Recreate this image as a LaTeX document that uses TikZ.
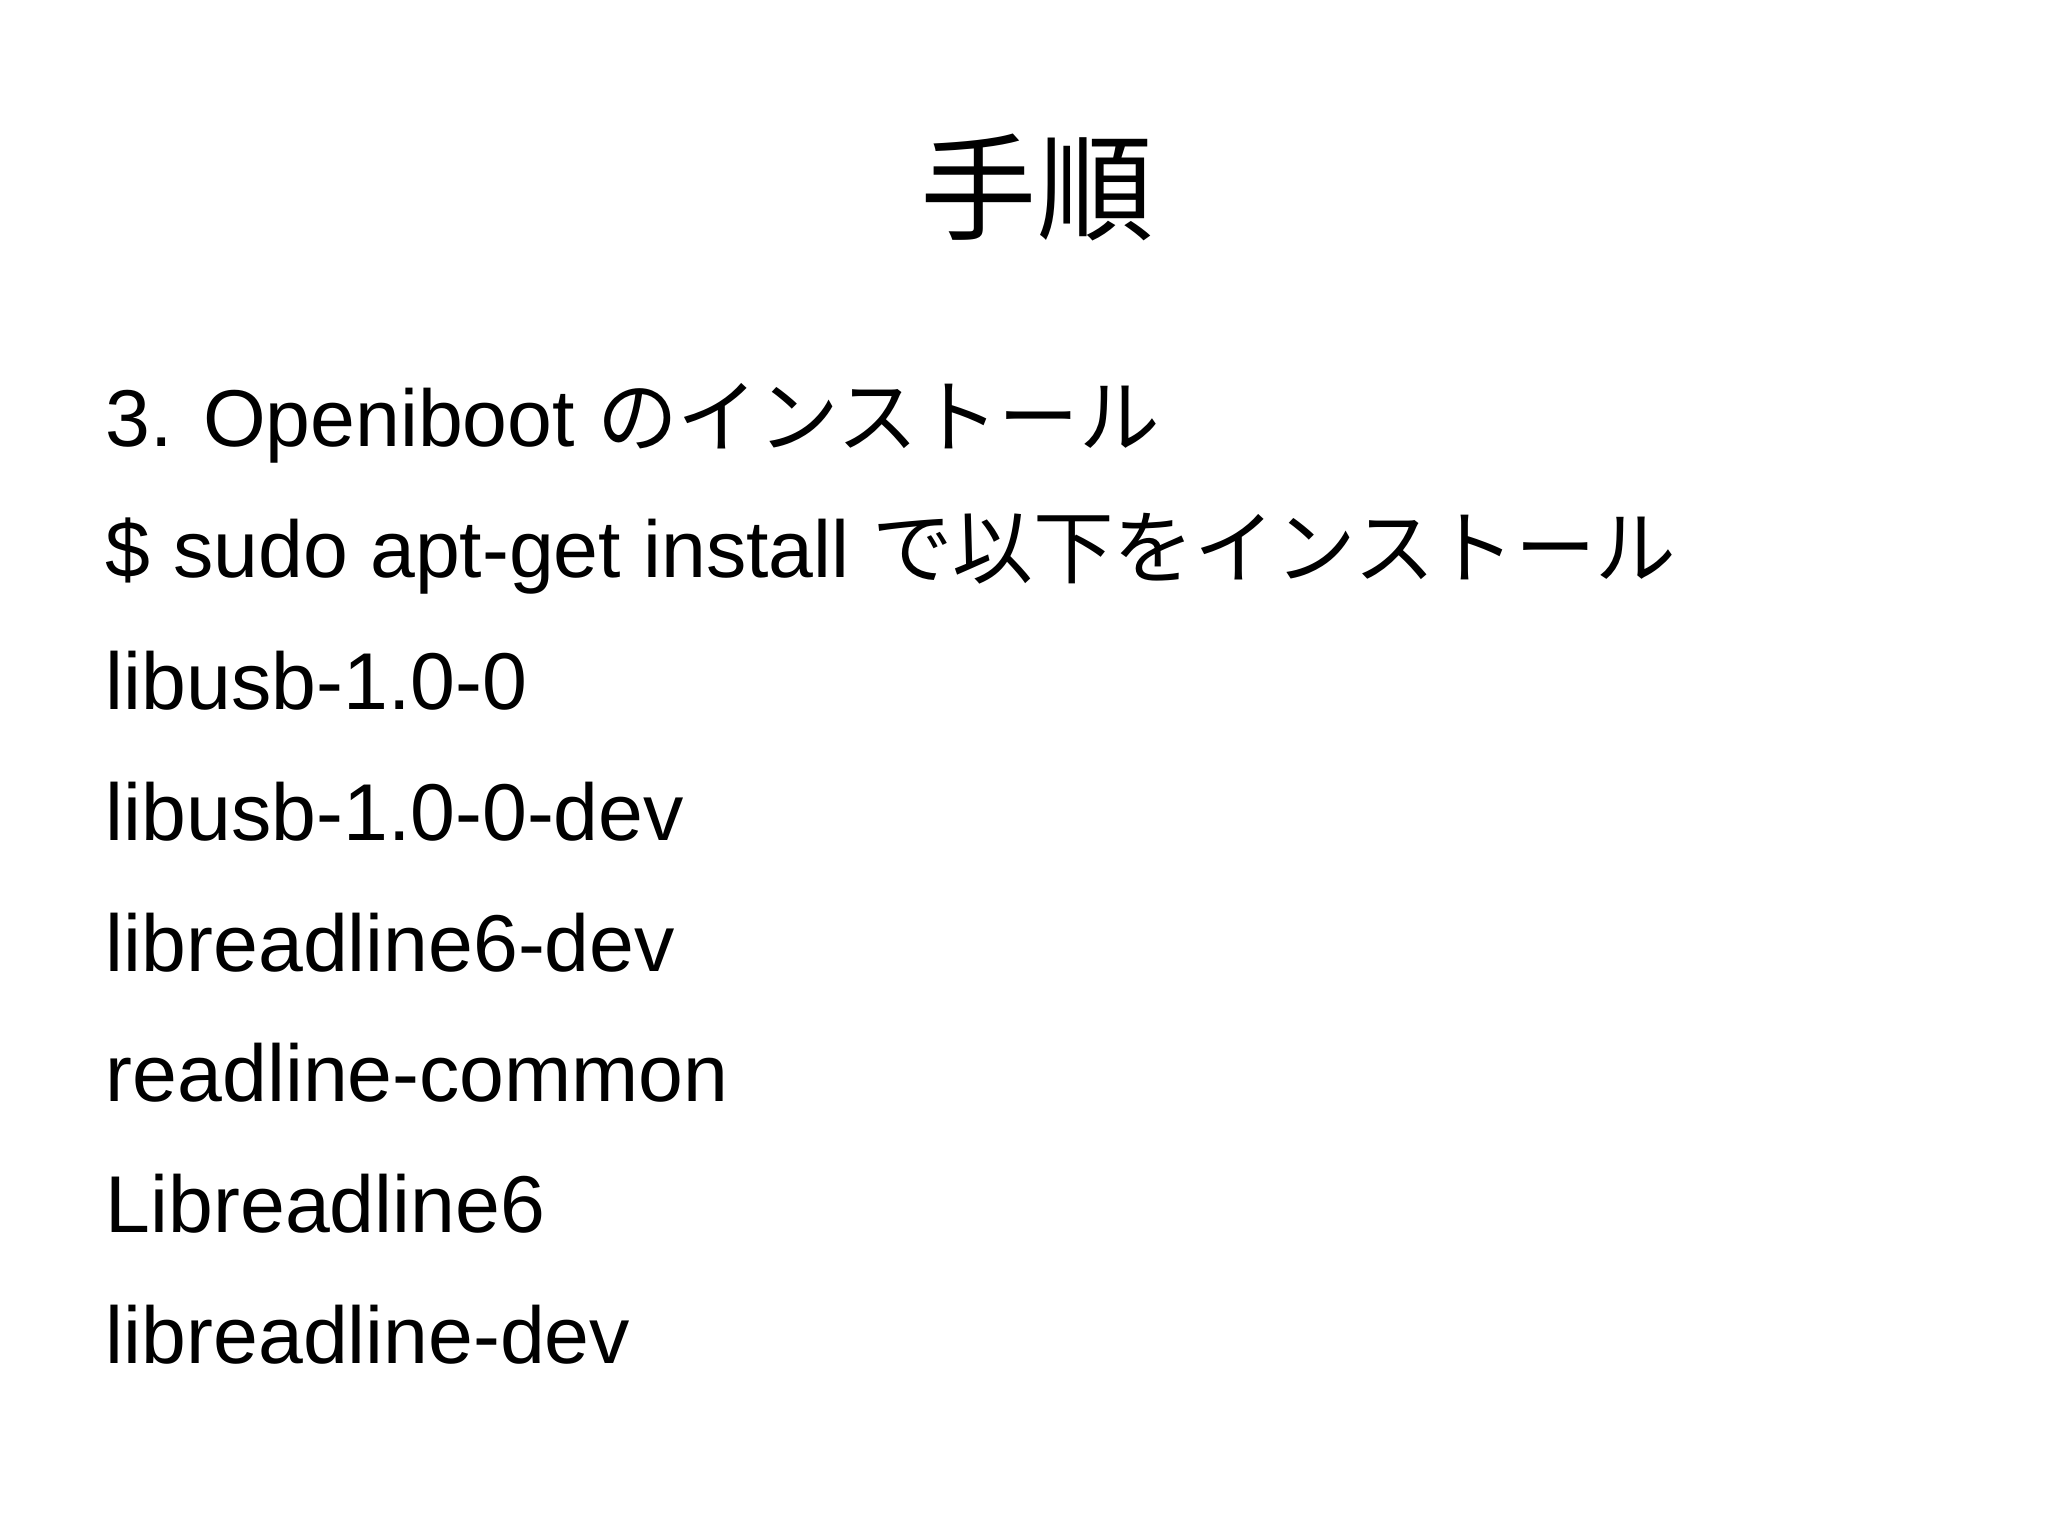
\documentclass[tikz,border=0pt]{standalone}
\usepackage{fontspec}
\setmainfont{Liberation Sans}
\newfontfamily\jp{Noto Sans CJK JP}
\begin{document}
\begin{tikzpicture}[x=1pt,y=-1pt,line/.style={anchor=base west,inner sep=0pt,font=\fontsize{61}{70}\selectfont}]
\useasboundingbox[fill=white] (0,0) rectangle (1550,1162);
\node[anchor=base,inner sep=0pt,font=\fontsize{88}{100}\selectfont\jp] (title) at (785,175) {手順};
\node[line] (l1) at (80,338) {3. Openiboot {\jp のインストール}};
\node[line] (l2) at (80,437) {\$ sudo apt-get install {\jp で以下をインストール}};
\node[line] (l3) at (80,537) {libusb-1.0-0};
\node[line] (l4) at (80,636) {libusb-1.0-0-dev};
\node[line] (l5) at (80,735) {libreadline6-dev};
\node[line] (l6) at (80,834) {readline-common};
\node[line] (l7) at (80,933) {Libreadline6};
\node[line] (l8) at (80,1032) {libreadline-dev};
\end{tikzpicture}
\end{document}
